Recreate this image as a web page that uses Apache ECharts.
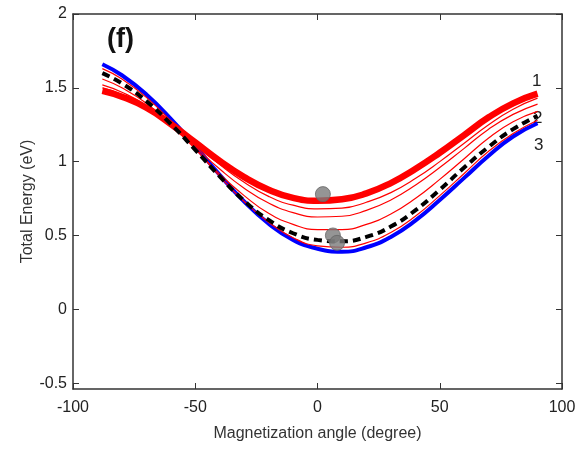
<!DOCTYPE html>
<html>
<head>
<meta charset="utf-8">
<script src="https://cdn.jsdelivr.net/npm/echarts@6/dist/echarts.min.js"></script>
<style>
html,body{margin:0;padding:0;background:#fff;}
#chart{width:582px;height:449px;}
</style>
</head>
<body>
<div id="chart"></div>
<script>
// Magnetization angle (degree)
var angles = [-88, -80, -70, -60, -50, -40, -30, -20, -10, 0, 10, 20, 30, 40, 50, 60, 70, 80, 90];
// Curve 1 (thick red)
var curve1 = [1.48, 1.44, 1.365, 1.255, 1.13, 1.005, 0.895, 0.81, 0.755, 0.735, 0.745, 0.785, 0.855, 0.95, 1.06, 1.18, 1.30, 1.395, 1.46];
// Intermediate thin red curves
var thinA = [1.50, 1.455, 1.37, 1.25, 1.115, 0.98, 0.86, 0.765, 0.705, 0.68, 0.685, 0.725, 0.79, 0.885, 1.00, 1.125, 1.25, 1.355, 1.43];
var thinB = [1.52, 1.47, 1.38, 1.25, 1.10, 0.95, 0.82, 0.72, 0.655, 0.625, 0.63, 0.67, 0.74, 0.84, 0.96, 1.09, 1.22, 1.32, 1.39];
var thinC = [1.56, 1.50, 1.395, 1.25, 1.085, 0.915, 0.77, 0.65, 0.575, 0.54, 0.54, 0.575, 0.645, 0.75, 0.88, 1.02, 1.16, 1.27, 1.34];
var thinD = [1.63, 1.56, 1.435, 1.275, 1.09, 0.90, 0.73, 0.59, 0.485, 0.43, 0.42, 0.45, 0.52, 0.63, 0.77, 0.92, 1.07, 1.19, 1.28];
// Curve 2 (black dashed)
var curve2 = [1.60, 1.53, 1.41, 1.255, 1.08, 0.90, 0.735, 0.605, 0.515, 0.47, 0.46, 0.49, 0.56, 0.67, 0.81, 0.96, 1.10, 1.22, 1.31];
// Curve 3 (blue)
var curve3 = [1.66, 1.585, 1.455, 1.29, 1.105, 0.91, 0.73, 0.58, 0.47, 0.41, 0.39, 0.42, 0.49, 0.60, 0.74, 0.89, 1.04, 1.17, 1.26];
// Minimum markers (gray dots)
var dotAngles = [2.2, 6.3, 8.0];
var dotEnergies = [0.78, 0.50, 0.45];
// Tick labels
var xTicks = [-100, -50, 0, 50, 100];
var yTicks = [-0.5, 0, 0.5, 1, 1.5, 2];

function pairs(xs, ys){ return xs.map(function(x,i){ return [x, ys[i]]; }); }

var FONT = "'Liberation Sans', Arial, sans-serif";
var axisColor = '#333';

var chart = echarts.init(document.getElementById('chart'), null, {renderer:'canvas'});

function lineSeries(name, ys, color, width, type, z){
  return {
    name: name, type: 'line', data: pairs(angles, ys), smooth: 0.5,
    symbol: 'none', silent: true, z: z,
    lineStyle: {color: color, width: width, type: type || 'solid', cap: 'butt'}
  };
}

var option = {
  animation: false,
  backgroundColor: '#fff',
  grid: {left: 73, right: 20, top: 14, bottom: 60, containLabel: false},
  xAxis: [{
    type: 'value', min: -100, max: 100, interval: 50, position: 'bottom',
    axisLine: {show: true, onZero: false, lineStyle: {color: axisColor, width: 1.5}},
    axisTick: {show: true, inside: true, length: 6, lineStyle: {color: axisColor}},
    splitLine: {show: false},
    axisLabel: {color: '#222', fontSize: 16, fontFamily: FONT, margin: 11},
    name: 'Magnetization angle (degree)', nameLocation: 'middle', nameGap: 37,
    nameTextStyle: {color: '#333', fontSize: 16, fontFamily: FONT}
  },{
    type: 'value', min: -100, max: 100, interval: 50, position: 'top',
    axisLine: {show: true, onZero: false, lineStyle: {color: axisColor, width: 1.5}},
    axisTick: {show: true, inside: true, length: 6, lineStyle: {color: axisColor}},
    splitLine: {show: false}, axisLabel: {show: false}
  }],
  yAxis: [{
    type: 'value', min: -0.54, max: 2, position: 'left',
    axisLine: {show: true, onZero: false, lineStyle: {color: axisColor, width: 1.5}},
    axisTick: {show: true, inside: true, length: 6, customValues: yTicks, lineStyle: {color: axisColor}},
    splitLine: {show: false},
    axisLabel: {color: '#222', fontSize: 16, fontFamily: FONT, margin: 6, customValues: yTicks},
    name: 'Total Energy (eV)', nameLocation: 'middle', nameGap: 37, nameRotate: 90,
    nameMoveOverlap: false,
    nameTextStyle: {color: '#333', fontSize: 16, fontFamily: FONT}
  },{
    type: 'value', min: -0.54, max: 2, position: 'right',
    axisLine: {show: true, onZero: false, lineStyle: {color: axisColor, width: 1.5}},
    axisTick: {show: true, inside: true, length: 6, customValues: yTicks, lineStyle: {color: axisColor}},
    splitLine: {show: false}, axisLabel: {show: false}
  }],
  series: [
    lineSeries('3', curve3, '#0000ff', 4, 'solid', 2),
    lineSeries('thinD', thinD, '#ff0000', 1.2, 'solid', 3),
    lineSeries('thinC', thinC, '#ff0000', 1.2, 'solid', 3),
    lineSeries('thinB', thinB, '#ff0000', 1.2, 'solid', 3),
    lineSeries('thinA', thinA, '#ff0000', 1.2, 'solid', 3),
    lineSeries('1', curve1, '#ff0000', 6.5, 'solid', 4),
    lineSeries('2', curve2, '#000000', 4, [8, 5], 5),
    {
      name: 'minima', type: 'scatter', data: pairs(dotAngles, dotEnergies),
      symbol: 'circle', symbolSize: 15, z: 6, silent: true,
      itemStyle: {color: '#7b7b7b', borderColor: '#666', borderWidth: 1}
    }
  ],
  graphic: [
    {type: 'text', left: 107, top: 26, style: {text: '(f)', font: "bold 27px " + FONT, fill: '#111'}},
    {type: 'text', left: 532, top: 73, style: {text: '1', font: "17px " + FONT, fill: '#222'}},
    {type: 'text', left: 533, top: 110, style: {text: '2', font: "17px " + FONT, fill: '#222'}},
    {type: 'text', left: 534, top: 137, style: {text: '3', font: "17px " + FONT, fill: '#222'}}
  ]
};
chart.setOption(option);
</script>
</body>
</html>
